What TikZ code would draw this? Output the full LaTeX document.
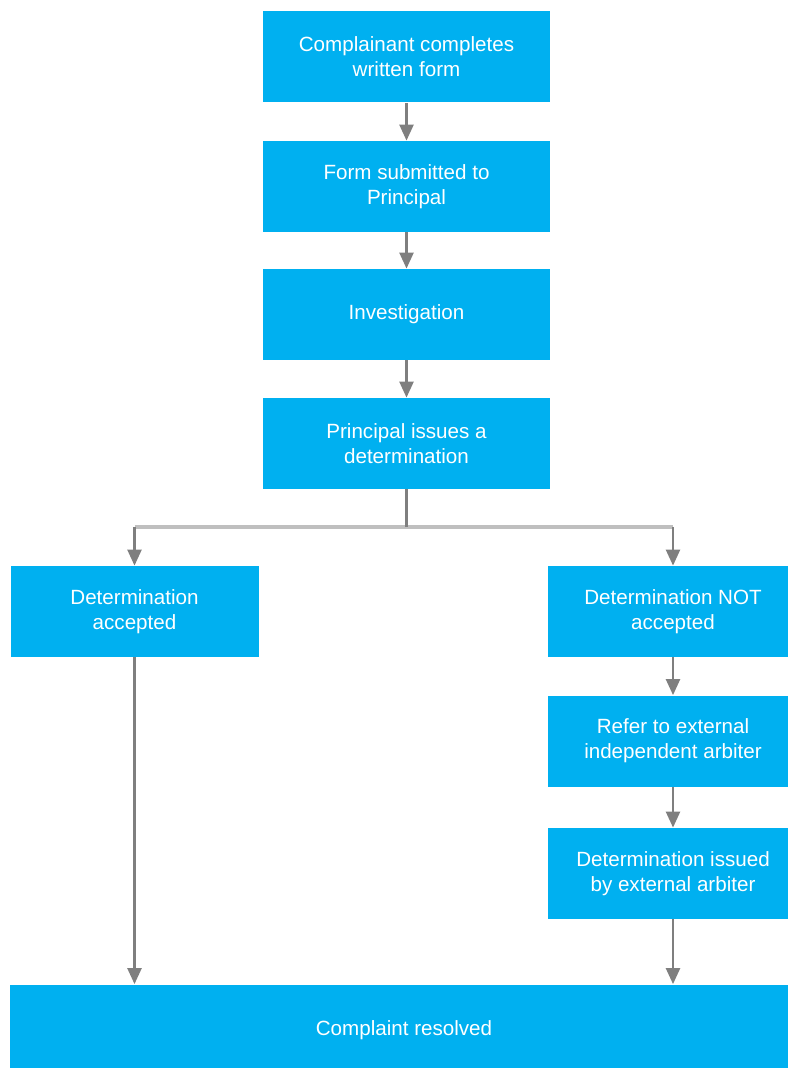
\documentclass[tikz,border=0pt]{standalone}
\usepackage{fontspec}
\setmainfont{Liberation Sans}
\usetikzlibrary{arrows.meta}
\definecolor{boxblue}{HTML}{00B0F0}
\definecolor{linkgray}{HTML}{7F7F7F}
\definecolor{splitgray}{HTML}{BFBFBF}
\tikzset{stagebox/.style={fill=boxblue, text=white, inner sep=0pt, align=center,
    minimum height=45.5pt, minimum width=#1,
    font=\fontsize{10.3}{12.5}\selectfont}}
\tikzset{flow/.style={-{Triangle[length=8pt, width=7pt]}, draw=linkgray, line width=1.2pt}}
\tikzset{split line/.style={draw=splitgray, line width=1.6pt}}

\begin{document}
\begin{tikzpicture}[x=0.5pt, y=-0.5pt]
    \useasboundingbox (0,0) rectangle (787,1068);
    \node[stagebox=143.5pt] (form) at (406.5,57) {Complainant completes\\written form};
    \node[stagebox=143.5pt] (submit) at (406.5,186.5) {Form submitted to\\Principal};
    \node[stagebox=143.5pt] (invest) at (406.5,314.5) {Investigation};
    \node[stagebox=143.5pt] (decide) at (406.5,443.5) {Principal issues a\\determination};
    \node[stagebox=124pt] (accept) at (134.5,611.5) {Determination\\accepted};
    \node[stagebox=125pt] (reject) at (673,611.5) {Determination NOT\\accepted};
    \node[stagebox=125pt] (refer) at (673,741) {Refer to external\\independent arbiter};
    \node[stagebox=125pt] (issued) at (673,873.5) {Determination issued\\by external arbiter};
    \node[stagebox=394pt] (resolved) at (404,1030) {Complaint resolved};

    \draw[flow] (form) -- (submit);
    \draw[flow] (submit) -- (invest);
    \draw[flow] (invest) -- (decide);

    % split to the two outcomes
    \coordinate (split) at (406.5,527);
    \draw[split line] (accept.north |- split) -- (reject.north |- split);
    \draw[draw=linkgray, line width=1.4pt] (decide.south) -- (split);
    \draw[flow] (accept.north |- split) -- (accept.north);
    \draw[flow] (reject.north |- split) -- (reject.north);

    \draw[flow] (reject) -- (refer);
    \draw[flow] (refer) -- (issued);
    \draw[flow] (accept.south) -- (accept.south |- resolved.north);
    \draw[flow] (issued.south) -- (issued.south |- resolved.north);
\end{tikzpicture}
\end{document}
